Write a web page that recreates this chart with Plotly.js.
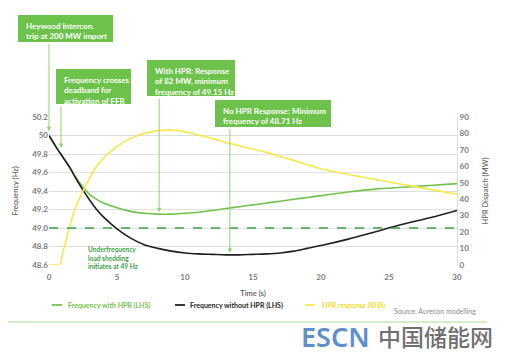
<!DOCTYPE html>
<html><head><meta charset="utf-8">
<script src="https://cdn.plot.ly/plotly-3.0.1.min.js"></script>
<style>html,body{margin:0;padding:0;background:#fff;}#chart{width:505px;height:356px;}</style>
</head><body><div id="chart"></div>
<script>
// ---- data ----
const timeFreq = [0,0.5,1,1.5,2,2.5,3,3.5,4,5,6,7,8,9,10,11,12,13,14,15,16,17,18,19,20,22,24,26,28,30];
const freqWithHPR = [50.0,49.88,49.77,49.66,49.54,49.44,49.36,49.31,49.27,49.22,49.18,49.16,49.15,49.15,49.16,49.17,49.19,49.21,49.23,49.25,49.27,49.29,49.31,49.33,49.35,49.39,49.42,49.44,49.46,49.48];
const freqWithoutHPR = [50.0,49.88,49.77,49.66,49.53,49.41,49.30,49.20,49.12,48.99,48.89,48.82,48.78,48.75,48.73,48.72,48.715,48.71,48.71,48.715,48.72,48.73,48.75,48.78,48.81,48.88,48.96,49.04,49.11,49.19];
const timeHPR = [0,0.5,0.8,1,1.5,2,2.5,3,3.5,4,5,6,7,8,9,10,11,12,13,14,15,16,17,18,19,20,22,24,26,28,30];
const hprResponse = [0,0,0,7,23,36,45,53,60,65,72,77,80,81.7,82,81,79,77,74.5,72.5,70.5,68.5,66,63.5,61,58.5,55,52,49,46,43];
const freqTickVals = [48.6,48.8,49.0,49.2,49.4,49.6,49.8,50.0,50.2];
const freqTickText = ["48.6","48.8","49.0","49.2","49.4","49.6","49.8","50","50.2"];
const sheddingThreshold = 49.0;
const seriesNames = ["Frequency with HPR (LHS)","Frequency without HPR (LHS)","HPR response (RHS)"];

const GREEN = '#72c24c', BLACK = '#231f20', YELLOW = '#f7e84a', BOX = '#6cc24a', ARROW = '#8fd46a';
const seriesColors = [GREEN, BLACK, YELLOW];
const legendTextColors = [GREEN, BLACK, '#eedd30'];
const tickFont = {family:'Lato, sans-serif', size:8, color:'#7a7a7a', weight:700};

const traces = [
  {x: timeFreq, y: freqWithHPR, type:'scatter', mode:'lines', name:seriesNames[0],
   line:{color:GREEN, width:1.6, shape:'spline', smoothing:0.8}, yaxis:'y'},
  {x: timeFreq, y: freqWithoutHPR, type:'scatter', mode:'lines', name:seriesNames[1],
   line:{color:BLACK, width:1.6, shape:'spline', smoothing:0.8}, yaxis:'y'},
  {x: timeHPR, y: hprResponse, type:'scatter', mode:'lines', name:seriesNames[2],
   line:{color:YELLOW, width:1.6, shape:'spline', smoothing:0.6}, yaxis:'y2'}
];

// paper coordinate helpers (plot area: x 49..457, y 117..265 px)
const px = v => (v - 49) / 408;
const py = v => (265 - v) / 148;

const boxes = [
  {l:18, t:15, r:113, b:42, text:'Heywood Intercon.<br>trip at 200 MW import'},
  {l:56, t:69, r:131, b:104, text:'Frequency crosses<br>deadband for<br>activation of FFR'},
  {l:147, t:60, r:235, b:96, text:'With HPR: Response<br>of 82 MW, minimum<br>frequency of 49.15 Hz'},
  {l:215, t:100, r:331, b:127, text:'No HPR Response: Minimum<br>frequency of 48.71 Hz'}
];

const shapes = boxes.map(b => ({type:'rect', xref:'paper', yref:'paper', x0:px(b.l), x1:px(b.r), y0:py(b.b), y1:py(b.t),
  fillcolor:BOX, line:{width:0}, layer:'above'}));
shapes.push({type:'line', xref:'paper', yref:'y', x0:0, x1:1, y0:sheddingThreshold, y1:sheddingThreshold,
  line:{color:'#3e9e4a', width:1.3, dash:'dash'}});
shapes.push({type:'line', xref:'paper', yref:'paper', x0:px(8), x1:px(487), y0:py(322), y1:py(322),
  line:{color:'#a8dc8e', width:1}});

const annotations = boxes.map(b => ({xref:'paper', yref:'paper', x:px(b.l+6), y:py(b.t+4), xanchor:'left', yanchor:'top',
  text:'<b>'+b.text+'</b>', align:'left', showarrow:false, font:{family:'Lato, sans-serif', size:8, color:'#ffffff'}}));

// arrows: head in plot coordinates, tail at box bottom (pixel offsets)
const arrows = [
  {x:0, y:50.045, ay:-89, c:ARROW},
  {x:0.88, y:49.865, ay:-43, c:ARROW},
  {x:8.1, y:49.17, ay:-115, c:ARROW},
  {x:13.3, y:48.73, ay:-125, c:ARROW},
  {x:2.43, y:48.595, ay:-35, c:'#3e9e4a'}
];
arrows.forEach(a => annotations.push({x:a.x, y:a.y, xref:'x', yref:'y', text:'', showarrow:true, ax:0, ay:a.ay,
  arrowhead:2, arrowsize:0.9, arrowwidth:1, arrowcolor:a.c, standoff:0, startstandoff:0}));

annotations.push({xref:'paper', yref:'paper', x:px(86), y:py(243), xanchor:'left', yanchor:'top', showarrow:false, align:'left',
  text:'<b>Underfrequency<br>load shedding<br>initiates at 49 Hz</b>', font:{family:'Lato, sans-serif', size:6.6, color:'#3e9e4a'}});
annotations.push({xref:'paper', yref:'paper', x:px(478), y:py(311), xanchor:'right', yanchor:'middle', showarrow:false,
  text:'Source: Aurecon modelling', font:{family:'Lato, sans-serif', size:7, color:'#8a8a8a'}});
annotations.push({xref:'paper', yref:'paper', x:px(299), y:py(336), xanchor:'left', yanchor:'middle', showarrow:false,
  text:'ESCN', font:{family:'Noto Sans, sans-serif', size:27, color:'#5f8fcc', weight:600}});
annotations.push({xref:'paper', yref:'paper', x:px(376), y:py(336), xanchor:'left', yanchor:'middle', showarrow:false,
  text:'中国储能网', font:{family:'Noto Sans CJK SC, sans-serif', size:23, color:'#707070', weight:500}});

// manual legend (short line samples + coloured labels)
const legendLineX = [52, 175, 305];
const legendTextX = [66, 188, 320];
seriesNames.forEach((n, i) => {
  shapes.push({type:'line', xref:'paper', yref:'paper', x0:px(legendLineX[i]), x1:px(legendLineX[i]+10), y0:py(305), y1:py(305),
    line:{color:seriesColors[i], width:1.8}});
  annotations.push({xref:'paper', yref:'paper', x:px(legendTextX[i]), y:py(305), xanchor:'left', yanchor:'middle', showarrow:false,
    text:'<b>'+n+'</b>', font:{family:'Lato, sans-serif', size:7, color:legendTextColors[i]}});
});

const layout = {
  width:505, height:356,
  margin:{l:49, r:48, t:117, b:91},
  paper_bgcolor:'#ffffff', plot_bgcolor:'#ffffff',
  showlegend:false,
  xaxis:{range:[0,30], dtick:5, tick0:0, showgrid:false, zeroline:false, showline:false, ticks:'', ticklabelstandoff:6,
    tickfont:tickFont, title:{text:'Time (s)', font:{family:'Lato, sans-serif', size:7.5, color:'#555', weight:600}, standoff:9}},
  yaxis:{range:[48.6,50.2], tickvals:freqTickVals, ticktext:freqTickText, gridcolor:'#dedede', gridwidth:1,
    zeroline:false, showline:false, ticks:'', tickfont:tickFont,
    title:{text:'Frequency (Hz)', font:{family:'Lato, sans-serif', size:7.5, color:'#666', weight:600}, standoff:12}},
  yaxis2:{range:[0,90], dtick:10, overlaying:'y', side:'right', showgrid:false, zeroline:false, showline:true,
    linecolor:'#dcdcdc', ticks:'', tickfont:tickFont,
    title:{text:'HPR Dispatch (MW)', font:{family:'Lato, sans-serif', size:7.5, color:'#666', weight:600}, standoff:14}},
  shapes:shapes,
  annotations:annotations
};

Plotly.newPlot('chart', traces, layout, {displayModeBar:false, staticPlot:true});
</script></body></html>
